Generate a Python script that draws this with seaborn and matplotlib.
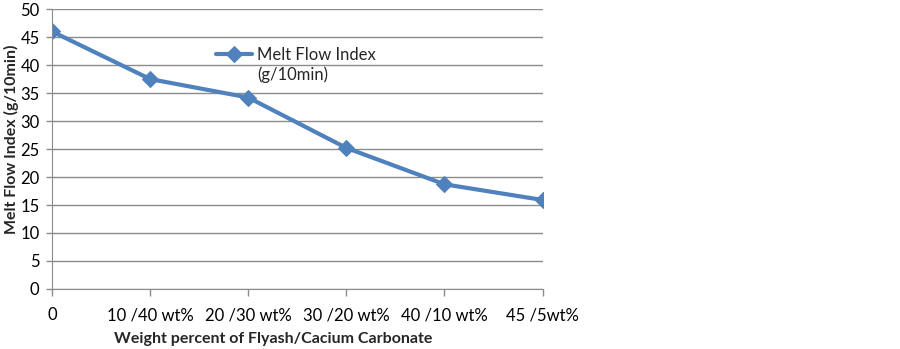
import numpy as np
import pandas as pd
import matplotlib
matplotlib.use("Agg")
import matplotlib.pyplot as plt
import seaborn as sns

sns.set_style("white")
plt.rcParams['font.family'] = ['Lato', 'DejaVu Sans']

# data
categories = ["0", "10 /40 wt%", "20 /30 wt%", "30 /20 wt%", "40 /10 wt%", "45 /5wt%"]
mfi = [46.0, 37.5, 34.2, 25.2, 18.7, 15.9]

df = pd.DataFrame({"pos": np.arange(len(categories)), "mfi": mfi})

blue = "#4F81BD"
grid = "#8C8C8C"

fig = plt.figure(figsize=(9, 3.49), dpi=100)
ax = fig.add_axes([0.0578, 0.172, 0.545, 0.802])

sns.lineplot(data=df, x="pos", y="mfi", ax=ax, color=blue, linewidth=3,
             marker="D", markersize=8, markeredgecolor=blue,
             label="Melt Flow Index")

ax.set_xlim(0, len(categories) - 1)
ax.set_ylim(0, 50)
ax.set_yticks(np.arange(0, 51, 5))
ax.set_xticks(df["pos"])
ax.set_xticklabels(categories)

ax.yaxis.grid(True, color=grid, linewidth=1)
ax.xaxis.grid(False)
for s in ["top", "right"]:
    ax.spines[s].set_visible(False)
ax.spines["left"].set_color(grid)
ax.spines["bottom"].set_color(grid)

ax.tick_params(axis="both", labelsize=12, colors="black")
ax.tick_params(axis="x", direction="out", length=5, width=1, color=grid, pad=8)
ax.tick_params(axis="y", direction="out", length=4, width=1, color=grid, pad=5)
ax.tick_params(left=True, bottom=True)

ax.set_xlabel("Weight percent of Flyash/Cacium Carbonate", fontsize=11.5, fontweight="bold")
ax.set_ylabel("Melt Flow Index (g/10min)", fontsize=11.5, fontweight="bold")
ax.xaxis.set_label_coords(0.45, -0.152)
ax.yaxis.set_label_coords(-0.068, 0.536)

leg = ax.legend(loc="center left", bbox_to_anchor=(0.32, 0.835), frameon=False,
                fontsize=12, handlelength=2.2, handletextpad=0.3, borderaxespad=0)
# second line of the legend label
ax.text(0.418, 0.765, "(g/10min)", transform=ax.transAxes, fontsize=12,
        va="center", ha="left")

plt.savefig("out.png", dpi=100)
